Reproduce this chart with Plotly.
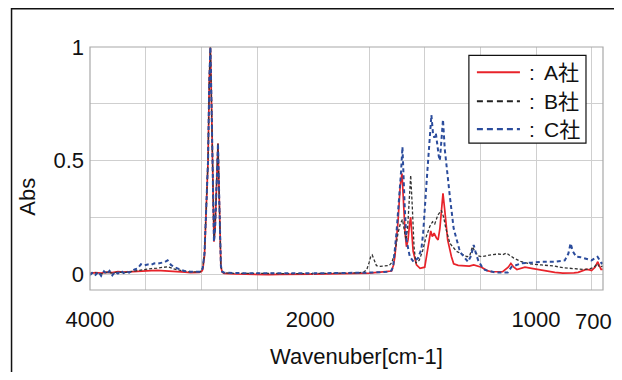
import plotly.graph_objects as go

# ---------------- data ----------------
wn_A = [4000, 3950, 3900, 3850, 3800, 3750, 3700, 3650, 3600, 3550, 3500, 3450, 3400, 3350, 3300,
        3250, 3200, 3150, 3100, 3050, 3020, 3000, 2990, 2975, 2964, 2955, 2943, 2932, 2922, 2912,
        2904, 2896, 2890, 2880, 2872, 2862, 2854, 2847, 2838, 2828, 2815, 2800, 2700, 2600, 2500,
        2400, 2300, 2200, 2100, 2000,
        1900, 1800, 1750, 1700, 1670, 1649, 1640, 1634, 1620, 1610, 1602, 1595, 1588, 1582, 1575,
        1568, 1563, 1558, 1552, 1537, 1521, 1500, 1485, 1473, 1466, 1458, 1448, 1440, 1432, 1425,
        1418, 1410, 1397, 1380, 1370, 1350, 1320, 1300, 1280, 1260, 1245, 1220, 1200, 1150, 1125,
        1113, 1100, 1086, 1050, 1020, 990, 950, 916, 880, 856, 830, 811, 790, 775, 760, 751, 735,
        723, 715, 708, 700]
abs_A = [0.003, 0.006, 0.004, 0.008, 0.006, 0.010, 0.008, 0.010, 0.011, 0.012, 0.014, 0.015, 0.016, 0.015, 0.014,
         0.012, 0.010, 0.008, 0.006, 0.006, 0.007, 0.012, 0.020, 0.080, 0.220, 0.300, 0.500, 0.850, 1.000, 0.750,
         0.450, 0.200, 0.142, 0.200, 0.300, 0.480, 0.575, 0.420, 0.150, 0.030, 0.008, 0.003, 0.000, -0.002, -0.002,
         -0.003, -0.002, -0.002, -0.002, -0.001,
         0.000, 0.002, 0.004, 0.008, 0.010, 0.013, 0.040, 0.076, 0.230, 0.390, 0.443, 0.300, 0.180, 0.120, 0.150,
         0.220, 0.250, 0.180, 0.100, 0.040, 0.025, 0.030, 0.130, 0.190, 0.165, 0.180, 0.160, 0.150, 0.200, 0.300,
         0.355, 0.280, 0.150, 0.076, 0.045, 0.038, 0.035, 0.035, 0.040, 0.035, 0.030, 0.015, 0.010, 0.010, 0.030,
         0.047, 0.030, 0.020, 0.030, 0.025, 0.020, 0.012, 0.007, 0.004, 0.003, 0.005, 0.007, 0.015, 0.020, 0.018, 0.015, 0.030,
         0.054, 0.035, 0.020, 0.020]

wn_B = [4000, 3950, 3900, 3850, 3800, 3750, 3700, 3650, 3600, 3550, 3500, 3450, 3400, 3350, 3300,
        3250, 3200, 3150, 3100, 3050, 3020, 3000, 2990, 2975, 2964, 2955, 2943, 2932, 2922, 2912,
        2904, 2896, 2890, 2880, 2872, 2862, 2854, 2847, 2838, 2828, 2815, 2800, 2700, 2600, 2500,
        2400, 2300, 2200, 2100, 2000,
        1900, 1800, 1775, 1760, 1750, 1742, 1736, 1728, 1717, 1700, 1680, 1660, 1648, 1634, 1620,
        1610, 1600, 1592, 1584, 1577, 1570, 1563, 1556, 1548, 1540, 1525, 1510, 1495, 1477, 1465,
        1455, 1441, 1425, 1415, 1405, 1387, 1357, 1330, 1310, 1298, 1286, 1275, 1260, 1245, 1220,
        1200, 1170, 1150, 1133, 1115, 1100, 1066, 1028, 976, 920, 880, 850, 820, 790, 760, 740,
        725, 715, 700]
abs_B = [0.002, 0.005, 0.000, 0.007, 0.004, 0.009, 0.006, 0.010, 0.012, 0.018, 0.022, 0.024, 0.026, 0.028, 0.032,
         0.022, 0.016, 0.012, 0.010, 0.008, 0.009, 0.014, 0.030, 0.090, 0.230, 0.300, 0.500, 0.850, 1.000, 0.750,
         0.450, 0.200, 0.150, 0.210, 0.300, 0.480, 0.575, 0.420, 0.150, 0.035, 0.010, 0.005, 0.003, 0.002, 0.002,
         0.002, 0.002, 0.002, 0.002, 0.002,
         0.003, 0.005, 0.008, 0.020, 0.050, 0.078, 0.084, 0.060, 0.037, 0.034, 0.035, 0.037, 0.050, 0.092, 0.180,
         0.220, 0.240, 0.200, 0.150, 0.200, 0.320, 0.435, 0.300, 0.120, 0.048, 0.060, 0.100, 0.160, 0.210, 0.230,
         0.220, 0.260, 0.280, 0.250, 0.200, 0.135, 0.100, 0.085, 0.076, 0.080, 0.120, 0.100, 0.080, 0.076, 0.082,
         0.085, 0.088, 0.085, 0.092, 0.080, 0.070, 0.054, 0.045, 0.040, 0.035, 0.028, 0.025, 0.022, 0.020, 0.022, 0.030,
         0.045, 0.030, 0.035]

wn_C = [4000, 3975, 3950, 3925, 3900, 3875, 3850, 3825, 3800, 3775, 3750, 3725, 3700, 3675, 3650,
        3620, 3600, 3573, 3544, 3515, 3484, 3455, 3424, 3395, 3365, 3335, 3305, 3290, 3275, 3245,
        3215, 3185, 3155, 3100, 3050, 3020, 3000, 2990, 2975, 2964, 2955, 2943, 2932, 2922, 2912,
        2904, 2896, 2890, 2880, 2872, 2862, 2854, 2847, 2838, 2828, 2815, 2800, 2700, 2600, 2500,
        2400, 2300, 2200, 2100, 2000,
        1900, 1800, 1750, 1700, 1670, 1650, 1642, 1627, 1615, 1607, 1600, 1595, 1590, 1582, 1567,
        1550, 1530, 1515, 1507, 1492, 1477, 1470, 1463, 1457, 1450, 1443, 1437, 1432, 1425, 1418,
        1410, 1400, 1387, 1370, 1357, 1345, 1336, 1320, 1306, 1292, 1280, 1270, 1260, 1245, 1230,
        1185, 1127, 1110, 1066, 1020, 976, 916, 871, 855, 845, 835, 820, 800, 782, 751, 735,
        724, 706, 700]
abs_C = [-0.005, 0.008, -0.004, 0.010, -0.008, 0.012, 0.000, 0.014, -0.006, 0.010, 0.002, 0.015, 0.004, 0.012, 0.006,
         0.016, 0.020, 0.025, 0.043, 0.038, 0.042, 0.040, 0.047, 0.046, 0.050, 0.052, 0.060, 0.050, 0.040, 0.030,
         0.025, 0.018, 0.013, 0.010, 0.010, 0.010, 0.014, 0.030, 0.090, 0.230, 0.300, 0.500, 0.850, 1.000, 0.750,
         0.450, 0.200, 0.142, 0.200, 0.300, 0.480, 0.575, 0.420, 0.150, 0.035, 0.010, 0.006, 0.004, 0.003, 0.003,
         0.003, 0.003, 0.003, 0.003, 0.003,
         0.003, 0.004, 0.006, 0.008, 0.010, 0.015, 0.030, 0.180, 0.330, 0.440, 0.560, 0.420, 0.300, 0.150, 0.076,
         0.054, 0.070, 0.110, 0.180, 0.400, 0.600, 0.700, 0.620, 0.600, 0.620, 0.550, 0.520, 0.500, 0.600, 0.680,
         0.550, 0.450, 0.340, 0.200, 0.150, 0.110, 0.090, 0.070, 0.054, 0.080, 0.128, 0.090, 0.060, 0.035, 0.018,
         0.007, 0.007, 0.032, 0.047, 0.050, 0.054, 0.054, 0.060, 0.090, 0.135, 0.100, 0.076, 0.074, 0.070, 0.060, 0.070,
         0.076, 0.047, 0.050]

series_labels = ["A社", "B社", "C社"]
x_ticks_hi = [4000, 3500, 3000, 2500, 2000]
x_text_hi = ["4000", "", "", "", "2000\u00a0"]
x_ticks_lo = [1750, 1500, 1250, 1000, 750, 700]
x_text_lo = ["", "", "", "1000", "", ""]
last_tick = 700
last_tick_text = "700"
y_ticks = [0, 0.25, 0.5, 0.75, 1]
y_text = ["0", "", "0.5", "", "1"]

SPLIT = 2000
styles = [
    dict(color="#e8232a", width=1.7),
    dict(color="#333333", width=1.3, dash="3px,2px"),
    dict(color="#2b4c9c", width=2.0, dash="4px,3px"),
]
legend_styles = [
    dict(color="#e8232a", width=2.2),
    dict(color="#222222", width=2.0, dash="6px,4px"),
    dict(color="#2b4c9c", width=2.2, dash="6px,4px"),
]

fig = go.Figure()
for name, wn, ab, st in zip(series_labels, [wn_A, wn_B, wn_C], [abs_A, abs_B, abs_C], styles):
    hi = [(w, a) for w, a in zip(wn, ab) if w >= SPLIT]
    lo = [(w, a) for w, a in zip(wn, ab) if w <= SPLIT]
    fig.add_trace(go.Scatter(x=[p[0] for p in hi], y=[p[1] for p in hi], mode="lines",
                             line=st, name=name, showlegend=False, xaxis="x", yaxis="y"))
    fig.add_trace(go.Scatter(x=[p[0] for p in lo], y=[p[1] for p in lo], mode="lines",
                             line=st, name=name, showlegend=False, xaxis="x2", yaxis="y"))

# target plot box in window pixels (page body has an 8px margin)
OFF = 8
PL, PR, PT, PB = 90.4, 603.0, 46.7, 290.0
W, H = 622 - OFF, 364
L = PL - OFF
T = PT - OFF
R = W - (PR - OFF)
B = H - (PB - OFF)
pw = PR - PL
ph = PB - PT
d = (313.6 - PL) / pw

def px(x):
    return (x - PL) / pw

def py(y):
    return (PB - y) / ph

grid = "#cfcfcf"
font_fam = "Liberation Sans, Arial, sans-serif"
tickfont = dict(family=font_fam, size=22, color="#111111")
legfont = dict(family="Liberation Sans, Noto Sans CJK JP, sans-serif", size=21, color="#111111")

shapes = [
    dict(type="rect", xref="paper", yref="paper", x0=0, x1=1, y0=0, y1=1,
         line=dict(color="#a8a8a8", width=1.2), layer="above"),
    dict(type="rect", xref="paper", yref="paper", x0=px(12), x1=px(617), y0=py(400), y1=py(8.5),
         line=dict(color="#111111", width=1.5), layer="above"),
    dict(type="rect", xref="paper", yref="paper", x0=px(469), x1=px(586), y0=py(143), y1=py(55),
         line=dict(color="#111111", width=1.2), fillcolor="white", layer="above"),
]
annotations = [
    dict(text="Abs", xref="paper", yref="paper", x=px(28), y=py(197), showarrow=False,
         textangle=-90, font=tickfont, xanchor="center", yanchor="middle"),
    dict(text="Wavenuber[cm-1]", xref="paper", yref="paper", x=px(357), y=py(357), showarrow=False,
         font=tickfont, xanchor="center", yanchor="middle"),
    dict(text=last_tick_text, xref="x2", yref="paper", x=last_tick, y=py(322), xshift=-9,
         showarrow=False, font=tickfont, xanchor="center", yanchor="middle"),
]
row_y = [72, 101, 129]
for lab, ls, ry in zip(series_labels, legend_styles, row_y):
    shapes.append(dict(type="line", xref="paper", yref="paper", x0=px(477), x1=px(520),
                       y0=py(ry), y1=py(ry), line=ls, layer="above"))
    annotations.append(dict(text=":", xref="paper", yref="paper", x=px(527), y=py(ry), showarrow=False,
                            font=legfont, xanchor="left", yanchor="middle"))
    annotations.append(dict(text=lab, xref="paper", yref="paper", x=px(542), y=py(ry), showarrow=False,
                            font=legfont, xanchor="left", yanchor="middle"))

fig.update_layout(
    width=W, height=H,
    margin=dict(l=L, r=R, t=T, b=B, pad=0),
    paper_bgcolor="white", plot_bgcolor="white",
    showlegend=False,
    xaxis=dict(domain=[0, d], range=[4000, 2000], tickvals=x_ticks_hi, ticktext=x_text_hi,
               showgrid=True, gridcolor=grid, gridwidth=1, zeroline=False, ticks="",
               tickfont=tickfont, ticklabelstandoff=14, anchor="y", automargin=False,
               ticklabeloverflow="allow"),
    xaxis2=dict(domain=[d, 1], range=[2000, 699.5], tickvals=x_ticks_lo, ticktext=x_text_lo,
                showgrid=True, gridcolor=grid, gridwidth=1, zeroline=False, ticks="",
                tickfont=tickfont, ticklabelstandoff=14, anchor="y", automargin=False,
                ticklabeloverflow="allow"),
    yaxis=dict(range=[-0.0705, 1], tickvals=y_ticks, ticktext=y_text, showgrid=True,
               gridcolor=grid, gridwidth=1, zeroline=False, ticks="", tickfont=tickfont,
               ticklabelstandoff=5, automargin=False),
    shapes=shapes,
    annotations=annotations,
)

fig.write_html("out.html")
